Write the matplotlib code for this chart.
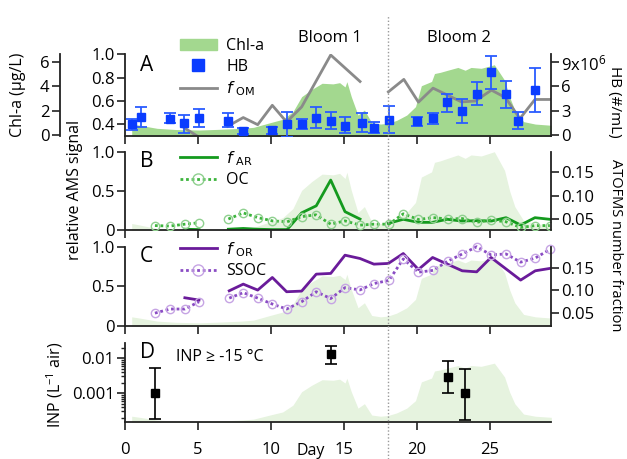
import numpy as np
import matplotlib
matplotlib.use("Agg")
import matplotlib.pyplot as plt
import matplotlib.transforms as mtransforms
from matplotlib.lines import Line2D
from matplotlib.patches import Patch

plt.rcParams['font.family'] = ['Open Sans', 'DejaVu Sans']
plt.rcParams['mathtext.default'] = 'regular'
plt.rcParams['font.size'] = 11
nan = np.nan

# Chl-a (ug/L), shaded in every panel
chl_day = [0.46, 1.0, 2.2, 3.5, 5.1, 6.5, 8.0, 8.8, 9.9, 10.8, 11.5, 12.1, 12.8, 13.5, 14.25,
           14.7, 15.07, 15.2, 15.5, 15.96, 16.4, 16.9, 17.5, 18.0, 18.6, 19.3, 19.9, 20.3, 21.0,
           21.2, 21.6, 22.1, 22.8, 23.3, 23.7, 24.4, 25.3, 26.0, 26.35, 26.7, 27.3, 28.1, 29.2]
chl_val = [0.9, 0.8, 0.55, 0.45, 0.41, 0.47, 0.55, 0.63, 1.0, 1.29, 1.91, 3.15, 3.75, 4.25, 4.2,
           4.3, 3.95, 4.38, 3.15, 1.64, 2.05, 1.01, 0.9, 0.96, 1.2, 1.64, 2.33, 4.05, 4.4,
           5.05, 5.15, 5.32, 5.55, 5.32, 5.55, 5.48, 5.77, 4.5, 3.1, 2.05, 1.1, 0.9, 0.8]

# heterotrophic bacteria (1e6 #/mL)
hb_day = [0.46, 1.07, 3.08, 4.06, 5.07, 7.03, 8.1, 10.09, 11.07, 12.1, 13.08, 14.09, 15.07, 16.25,
          17.05, 18.08, 20.02, 21.12, 22.03, 23.1, 24.09, 25.07, 26.1, 26.94, 28.08]
hb_val = [1.36, 2.18, 1.97, 1.44, 2.14, 1.77, 0.49, 0.62, 1.36, 1.32, 2.14, 1.73, 1.11, 1.52,
          0.9, 1.85, 1.73, 2.06, 4.03, 2.96, 5.02, 7.8, 5.02, 1.77, 5.55]
hb_hi = [2.0, 3.5, 2.67, 2.47, 3.2, 2.75, 0.82, 1.02, 2.8, 1.97, 3.4, 2.8, 2.18, 2.75,
         1.64, 3.58, 2.26, 2.75, 5.06, 4.4, 6.57, 9.78, 6.66, 2.88, 8.22]
hb_lo = [0.6, 0.95, 1.44, 0.29, 0.95, 0.95, 0.12, 0.12, -0.3, 0.7, 0.82, 0.7, 0.2, 0.33,
         0.2, 0.2, 1.11, 1.32, 2.88, 1.52, 3.7, 5.67, 3.29, 0.7, 2.88]

# f_OM
fom_day = [4.06, 5.07, nan, 7.03, 8.1, 9.09, 10.09, 11.07, 12.1, 14.09, 16.1, nan,
           18.04, 19.1, 20.1, 21.1, 23.05, 24.0, 25.1, 26.05, 27.05, 28.08, 29.1]
fom_val = [0.37, 0.29, nan, 0.383, 0.458, 0.397, 0.563, 0.42, 0.549, 0.994, 0.767, nan,
           0.678, 0.785, 0.59, 0.71, 0.592, 0.6, 0.693, 0.63, 0.449, 0.613, 0.613]

# f_AR (AMS) and OC (ATOFMS)
far_day = [4.1, 5.07, nan, 7.08, 8.1, 9.09, 10.1, 11.1, 12.1, 13.1, 14.09, 15.07, 16.1, nan,
           18.04, 19.06, 20.1, 21.05, 22.07, 23.06, 24.09, 25.1, 26.1, 27.1, 28.08, 29.1]
far_val = [0.01, 0.005, nan, 0.01, 0.02, 0.01, 0.005, 0.005, 0.22, 0.31, 0.64, 0.235, 0.14, nan,
           0.086, 0.137, 0.098, 0.098, 0.137, 0.115, 0.12, 0.115, 0.158, 0.064, 0.158, 0.137]
oc_day = [2.05, 3.08, 4.1, 5.07, nan, 7.08, 8.1, 9.09, 10.1, 11.1, 12.1, 13.08, 14.09, 15.07,
          16.1, 17.05, 18.08, 19.06, 20.1, 21.1, 22.1, 23.1, 24.09, 25.07, 26.1, 27.1, 28.1, 29.1]
oc_val = [0.036, 0.035, 0.039, 0.042, nan, 0.05, 0.063, 0.053, 0.046, 0.044, 0.055, 0.059, 0.039,
          0.046, 0.037, 0.039, 0.039, 0.061, 0.049, 0.053, 0.05, 0.051, 0.043, 0.048, 0.044,
          0.032, 0.036, 0.036]

# f_OR (AMS) and SSOC (ATOFMS)
for_day = [4.1, 5.07, nan, 7.14, 8.1, 9.09, 10.09, 11.07, 12.1, 13.1, 14.09, 15.07, 16.1, 17.05,
           18.04, 19.06, 20.1, 21.07, 23.1, 24.09, 25.07, 27.1, 28.1, 29.1]
for_val = [0.356, 0.327, nan, 0.444, 0.528, 0.453, 0.612, 0.432, 0.44, 0.654, 0.663, 0.893, 0.851,
           0.78, 0.789, 0.914, 0.713, 0.864, 0.696, 0.683, 0.864, 0.579, 0.696, 0.726]
ssoc_day = [2.05, 3.08, 4.1, 5.07, nan, 7.14, 8.1, 9.09, 10.09, 11.07, 12.1, 13.1, 14.09, 15.07,
            16.1, 17.05, 18.08, 19.06, 20.1, 21.1, 22.1, 23.1, 24.09, 25.07, 26.1, 27.1, 28.1, 29.1]
ssoc_val = [0.05, 0.059, 0.059, 0.075, nan, 0.083, 0.095, 0.083, 0.07, 0.059, 0.075, 0.097, 0.082,
            0.106, 0.101, 0.115, 0.122, 0.169, 0.14, 0.144, 0.164, 0.18, 0.196, 0.178, 0.18,
            0.162, 0.171, 0.19]

# INP >= -15 C (per L air)
inp_day = [2.05, 14.1, 22.1, 23.26]
inp_val = [0.001, 0.013, 0.0029, 0.00098]
inp_hi = [0.0052, 0.022, 0.0084, 0.0048]
inp_lo = [0.00018, 0.0067, 0.00098, 0.00017]

XLIM = (0, 29.18)
W, H = 627, 459
GREEN_A = '#a3d88f'
GREEN_L = '#e6f3df'
BLUE = '#0a3cff'
GRAY = '#8a8a8a'
SPINE = '#222222'
TICK_FS = 12

fig = plt.figure(figsize=(W / 100, H / 100), dpi=100)


def rect(top, bottom):
    return [125 / W, 1 - bottom / H, 426 / W, (bottom - top) / H]


def style(ax, left=True, right=False, bottom=True):
    for s in ['top', 'left', 'right', 'bottom']:
        ax.spines[s].set_visible(False)
    for s, on in [('left', left), ('right', right), ('bottom', bottom)]:
        if on:
            ax.spines[s].set_visible(True)
            ax.spines[s].set_linewidth(1.3)
            ax.spines[s].set_color(SPINE)
    ax.tick_params(direction='out', length=5.5, width=1.2, color=SPINE, labelsize=TICK_FS, pad=2)
    ax.tick_params(axis='x', labelbottom=False)
    ax.set_xlim(*XLIM)
    ax.set_xticks([0, 5, 10, 15, 20, 25])
    ax.patch.set_visible(False)


def bloom_fill(r, lo, hi, color):
    ax = fig.add_axes(r)
    ax.fill_between(chl_day, chl_val, lo - 1, color=color, lw=0)
    ax.set_xlim(*XLIM)
    ax.set_ylim(lo, hi)
    ax.axis('off')
    return ax


# ---- panel A
rA = rect(54.3, 136)
ax_chl = fig.add_axes(rA)
ax_chl.fill_between(chl_day, chl_val, -1, color=GREEN_A, lw=0)
ax_chl.set_xlim(*XLIM)
ax_chl.set_ylim(-0.08, 6.63)
style(ax_chl, left=True, bottom=False)
ax_chl.spines['left'].set_position(('axes', -65 / 426))
ax_chl.set_yticks([0, 2, 4, 6])
ax_chl.tick_params(axis='x', length=0)

axA = fig.add_axes(rA)
style(axA)
axA.plot(fom_day, fom_val, color=GRAY, lw=2)
axA.set_ylim(0.3, 1.0)
axA.set_yticks([0.4, 0.6, 0.8, 1.0])
axA.set_yticklabels(['0.4', '0.6', '0.8', '1.0'])

axA_r = axA.twinx()
style(axA_r, left=False, right=True, bottom=False)
axA_r.errorbar(hb_day, hb_val,
               yerr=[np.subtract(hb_val, hb_lo), np.subtract(hb_hi, hb_val)],
               fmt='s', color=BLUE, ecolor='#2a5cff', ms=6, elinewidth=1.3, capsize=4,
               capthick=1.3)
axA_r.set_ylim(-0.12, 9.95)
axA_r.set_yticks([0, 3, 6, 9])
axA_r.set_yticklabels(['0', '3', '6', '9x10$^6$'])

# ---- panel B
rB = rect(152, 230)
bloom_fill(rB, 0.46, 5.75, GREEN_L)
axB = fig.add_axes(rB)
style(axB)
axB.plot(far_day, far_val, color='#149a1e', lw=2)
axB.set_ylim(0, 1.0)
axB.set_yticks([0, 0.5, 1.0])
axB.set_yticklabels(['0', '0.5', '1.0'])
axB_r = axB.twinx()
style(axB_r, left=False, right=True, bottom=False)
axB_r.plot(oc_day, oc_val, color='#3cb43c', lw=2, ls=(0, (1, 1)), marker='o', ms=6,
           mfc='none', mec='#8fd08f', mew=1)
axB_r.set_ylim(0.0266, 0.1926)
axB_r.set_yticks([0.05, 0.10, 0.15])
axB_r.set_yticklabels(['0.05', '0.10', '0.15'])

# ---- panel C
rC = rect(246.7, 326)
bloom_fill(rC, 0.15, 6.64, GREEN_L)
axC = fig.add_axes(rC)
style(axC)
axC.plot(for_day, for_val, color='#6a1b9a', lw=2)
axC.set_ylim(0, 1.0)
axC.set_yticks([0, 0.5, 1.0])
axC.set_yticklabels(['0', '0.5', '1.0'])
axC_r = axC.twinx()
style(axC_r, left=False, right=True, bottom=False)
axC_r.plot(ssoc_day, ssoc_val, color='#8a4cc4', lw=2, ls=(0, (1, 1)), marker='o', ms=6,
           mfc='none', mec='#c6a4e4', mew=1, clip_on=False)
axC_r.set_ylim(0.0217, 0.196)
axC_r.set_yticks([0.05, 0.10, 0.15])
axC_r.set_yticklabels(['0.05', '0.10', '0.15'])

# ---- panel D
rD = rect(343, 422)
bloom_fill(rD, 0.37, 7.62, GREEN_L)
axD = fig.add_axes(rD)
style(axD)
axD.set_yscale('log')
axD.errorbar(inp_day, inp_val,
             yerr=[np.subtract(inp_val, inp_lo), np.subtract(inp_hi, inp_val)],
             fmt='s', color='black', ms=6, elinewidth=1.2, capsize=4, capthick=1.2)
axD.set_ylim(1.5e-4, 0.027)
axD.set_yticks([0.001, 0.01])
axD.set_yticklabels(['0.001', '0.01'])
axD.tick_params(axis='y', which='minor', direction='out', length=3, width=1, color=SPINE)
axD.tick_params(axis='x', labelbottom=True, labelsize=12, pad=9)
axD.set_xticklabels(['0', '5', '10', '15', '20', '25'])
blendD = mtransforms.blended_transform_factory(axD.transData, axD.transAxes)
axD.text(12.75, -0.27, 'Day', transform=blendD, ha='center', va='top', fontsize=11.5)
axD.text(3.5, 0.82, 'INP \u2265 -15 \u00b0C', transform=blendD, ha='left', va='center',
         fontsize=11.5)

# panel letters
for ax, letter in [(axA, 'A'), (axB, 'B'), (axC, 'C'), (axD, 'D')]:
    ax.text(0.035, 0.88, letter, transform=ax.transAxes, fontsize=15, va='center', ha='left')
axA.texts[-1].set_position((0.035, 0.86))

# bloom labels
blendTop = mtransforms.blended_transform_factory(axA.transData, fig.transFigure)
fig.text(14.0, 1 - 38 / H, 'Bloom 1', transform=blendTop, ha='center', va='center', fontsize=12)
fig.text(22.9, 1 - 38 / H, 'Bloom 2', transform=blendTop, ha='center', va='center', fontsize=12)
fig.add_artist(Line2D([18.0, 18.0], [0, 1 - 16 / H], transform=blendTop, color='#999999',
                      lw=1, ls=(0, (1, 1.5))))

# axis labels
fig.text(18 / W, 1 - 95 / H, 'Chl-a (\u00b5g/L)', rotation=90, ha='center', va='center',
         fontsize=11.5)
fig.text(75 / W, 1 - 190 / H, 'relative AMS signal', rotation=90, ha='center', va='center',
         fontsize=11.5)
fig.text(55 / W, 1 - 385 / H, 'INP (L$^{-1}$ air)', rotation=90, ha='center', va='center',
         fontsize=11.5)
fig.text(615 / W, 1 - 102 / H, 'HB (#/mL)', rotation=-90, ha='center', va='center',
         fontsize=11)
fig.text(615 / W, 1 - 245 / H, 'ATOFMS number fraction', rotation=-90, ha='center',
         va='center', fontsize=10.5)

# legends
leg_kw = dict(loc='upper left', frameon=False, borderpad=0, borderaxespad=0, fontsize=11.5,
              handlelength=2.3, handletextpad=0.6, labelspacing=0.3)
hA = [Patch(color=GREEN_A), Line2D([], [], marker='s', ls='none', color=BLUE, ms=8),
      Line2D([], [], color=GRAY, lw=2)]
fig.legend(hA, ['Chl-a', 'HB', r'$\it{f}$ $_{\rm OM}$'], bbox_to_anchor=(180 / W, 1 - 38 / H), **leg_kw)
hB = [Line2D([], [], color='#149a1e', lw=2),
      Line2D([], [], color='#3cb43c', lw=2, ls=(0, (1, 1)), marker='o', ms=8, mfc='none',
             mec='#8fd08f', mew=1)]
fig.legend(hB, [r'$\it{f}$ $_{\rm AR}$', 'OC'], bbox_to_anchor=(180 / W, 1 - 149 / H), **leg_kw)
hC = [Line2D([], [], color='#6a1b9a', lw=2),
      Line2D([], [], color='#8a4cc4', lw=2, ls=(0, (1, 1)), marker='o', ms=8, mfc='none',
             mec='#c6a4e4', mew=1)]
fig.legend(hC, [r'$\it{f}$ $_{\rm OR}$', 'SSOC'], bbox_to_anchor=(180 / W, 1 - 240 / H), **leg_kw)

fig.savefig('out.png', dpi=100)
